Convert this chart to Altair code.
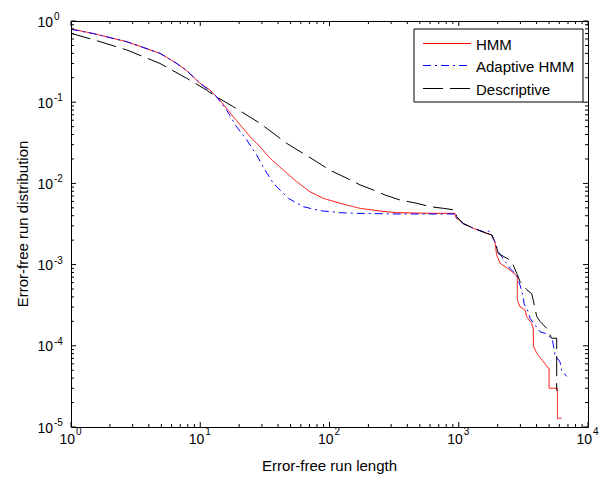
import altair as alt
import pandas as pd

# ---------------- data ----------------
series_names = ["HMM", "Adaptive HMM", "Descriptive"]
series_colors = ["#FF0000", "#0000FF", "#000000"]
series_dashes = [[1, 0], [8, 4, 2, 4], [20, 7]]

hmm_x = [1, 1.49, 2.7, 4.88, 6.58, 7.86, 9.95, 11.9, 14.2, 18,
         24.3, 29, 34.7, 43.9, 55.7, 70.6, 89.5, 121, 172, 246,
         331, 600, 935, 950, 1084, 1297, 1644, 1798, 1905, 1966,
         2085, 2493, 2840, 2840, 2978, 3257, 3356, 3665, 3776, 3776,
         4010, 4508, 4935, 5000, 5000, 5800, 5800, 6250]
hmm_y = [0.80, 0.70, 0.556, 0.40, 0.30, 0.245, 0.171, 0.141, 0.106, 0.0663,
         0.0376, 0.0283, 0.0204, 0.0146, 0.0105, 0.0079, 0.00655, 0.00569, 0.00493, 0.00457,
         0.00436, 0.00428, 0.00428, 0.0038, 0.0032, 0.0028, 0.00243, 0.00232, 0.0019, 0.00131,
         0.00104, 0.00086, 0.00071, 0.000367, 0.000303, 0.000276, 0.000228, 0.000189, 0.00016, 0.0001,
         0.0000807, 0.000064, 0.000053, 0.000053, 0.00003, 0.00003, 0.0000128, 0.0000128]

ahmm_x = [1, 1.49, 2.7, 4.88, 6.58, 7.86, 9.95, 13, 16, 19.1,
          22.9, 27.3, 31.7, 36.8, 48, 62.7, 84.5, 121, 162, 331,
          935, 950, 1084, 1297, 1600, 1700, 1798, 1905, 2023, 2493,
          2805, 2978, 3160, 3200, 3450, 3560, 3900, 4250, 4700, 5300,
          5400, 5560, 6080, 6250, 6840]
ahmm_y = [0.79, 0.70, 0.556, 0.40, 0.30, 0.245, 0.171, 0.123, 0.080, 0.0499,
          0.0342, 0.0224, 0.0146, 0.0100, 0.00655, 0.00517, 0.00461, 0.00436, 0.00428, 0.0042,
          0.0042, 0.0038, 0.0032, 0.0028, 0.0025, 0.0026, 0.00232, 0.0019, 0.00144, 0.0009,
          0.00074, 0.00056, 0.0004, 0.00033, 0.000263, 0.000218, 0.00018, 0.000149, 0.000142, 0.00012,
          0.0001, 0.000077, 0.000063, 0.00005, 0.000042]

desc_x = [1, 1.68, 2.7, 4.88, 7.86, 11.2, 12.6, 18, 29, 46.6,
          79.6, 101, 136, 172, 218, 269, 351, 473, 600, 760,
          935, 964, 1084, 1297, 1644, 1798, 1905, 2023, 2493, 2630,
          2840, 2980, 3160, 3360, 3665, 3776, 4010, 4250, 4790, 5240,
          5726, 5726]
desc_y = [0.705, 0.556, 0.44, 0.30, 0.197, 0.141, 0.123, 0.088, 0.055, 0.0312,
          0.0185, 0.0145, 0.0116, 0.0096, 0.0083, 0.0072, 0.00625, 0.00569, 0.00517, 0.00493,
          0.00471, 0.0039, 0.0032, 0.0028, 0.00243, 0.00232, 0.0019, 0.00137, 0.00114, 0.00100,
          0.00075, 0.00062, 0.00056, 0.00049, 0.00044, 0.00036, 0.00023, 0.0002, 0.000164, 0.000124,
          0.000124, 0.000028]

x_major = [1, 10, 100, 1000, 10000]
x_exp = ["0", "1", "2", "3", "4"]
y_major = [1e-5, 1e-4, 1e-3, 1e-2, 1e-1, 1]
y_exp = ["-5", "-4", "-3", "-2", "-1", "0"]
x_minor = [m * 10 ** d for d in range(0, 4) for m in range(2, 10)]
y_minor = [m * 10.0 ** d for d in range(-5, 0) for m in range(2, 10)]

x_title = "Error-free run length"
y_title = "Error-free run distribution"

# ---------------- layout ----------------
W, H = 517, 406
FONT = "Liberation Sans, Arial, Helvetica, sans-serif"

rows = []
for name, xs_, ys_ in zip(series_names, [hmm_x, ahmm_x, desc_x], [hmm_y, ahmm_y, desc_y]):
    for i, (a, b) in enumerate(zip(xs_, ys_)):
        rows.append({"series": name, "i": i, "x": a, "y": b})
df = pd.DataFrame(rows)

xs = alt.Scale(type="log", domain=[1, 10000])
ys = alt.Scale(type="log", domain=[1e-5, 1])
color_enc = alt.Color("series:N", scale=alt.Scale(domain=series_names, range=series_colors), legend=None)
dash_enc = alt.StrokeDash("series:N", scale=alt.Scale(domain=series_names, range=series_dashes), legend=None)

lines = alt.Chart(df).mark_line(strokeWidth=1, clip=True).encode(
    x=alt.X("x:Q", scale=xs, axis=None),
    y=alt.Y("y:Q", scale=ys, axis=None),
    color=color_enc,
    strokeDash=dash_enc,
    detail="series:N",
    order=alt.Order("i:Q"),
)

layers = [lines]

# inward ticks on all four sides
def xticks(vals, length):
    d = pd.DataFrame({"x": vals})
    base = alt.Chart(d).mark_rule(color="black", strokeWidth=1)
    bottom = base.encode(x=alt.X("x:Q", scale=xs, axis=None), y=alt.value(H), y2=alt.value(H - length))
    top = base.encode(x=alt.X("x:Q", scale=xs, axis=None), y=alt.value(0), y2=alt.value(length))
    return [bottom, top]

def yticks(vals, length):
    d = pd.DataFrame({"y": vals})
    base = alt.Chart(d).mark_rule(color="black", strokeWidth=1)
    left = base.encode(y=alt.Y("y:Q", scale=ys, axis=None), x=alt.value(0), x2=alt.value(length))
    right = base.encode(y=alt.Y("y:Q", scale=ys, axis=None), x=alt.value(W), x2=alt.value(W - length))
    return [left, right]

layers += xticks(x_major, 5) + xticks(x_minor, 3) + yticks(y_major, 5) + yticks(y_minor, 3)

# tick labels: "10" with superscript exponent
xl = pd.DataFrame({"x": x_major, "base": ["10"] * len(x_major), "exp": x_exp})
layers.append(alt.Chart(xl).mark_text(align="right", baseline="alphabetic", fontSize=14, font=FONT,
                                      color="black", dx=4).encode(
    x=alt.X("x:Q", scale=xs, axis=None), y=alt.value(H + 17), text="base:N"))
layers.append(alt.Chart(xl).mark_text(align="left", baseline="alphabetic", fontSize=10, font=FONT,
                                      color="black", dx=5).encode(
    x=alt.X("x:Q", scale=xs, axis=None), y=alt.value(H + 8), text="exp:N"))

yl = pd.DataFrame({"y": y_major, "base": ["10"] * len(y_major), "exp": y_exp})
layers.append(alt.Chart(yl).mark_text(align="right", baseline="middle", fontSize=14, font=FONT,
                                      color="black", dy=1.5).encode(
    y=alt.Y("y:Q", scale=ys, axis=None), x=alt.value(-18), text="base:N"))
layers.append(alt.Chart(yl).mark_text(align="left", baseline="middle", fontSize=10, font=FONT,
                                      color="black", dy=-4).encode(
    y=alt.Y("y:Q", scale=ys, axis=None), x=alt.value(-17), text="exp:N"))

# axis titles
one = pd.DataFrame({"k": [0]})
layers.append(alt.Chart(one).mark_text(align="center", baseline="alphabetic", fontSize=15, font=FONT,
                                       color="black").encode(
    x=alt.value(W / 2), y=alt.value(H + 44), text=alt.value(x_title)))
layers.append(alt.Chart(one).mark_text(align="center", baseline="alphabetic", fontSize=15, font=FONT,
                                       color="black", angle=270).encode(
    x=alt.value(-43), y=alt.value(H / 2), text=alt.value(y_title)))

# legend box and entries (samples use the same colour / dash scales as the lines)
legend_df = pd.DataFrame({"series": series_names})
layers.append(alt.Chart(one).mark_rect(fill="white", stroke="black", strokeWidth=1).encode(
    x=alt.value(343), x2=alt.value(512), y=alt.value(8), y2=alt.value(81)))
legend_rows = [22.5, 44.5, 67.5]
for name, yy in zip(series_names, legend_rows):
    sub = alt.Chart(legend_df).transform_filter(alt.datum.series == name)
    layers.append(sub.mark_rule(strokeWidth=1).encode(
        x=alt.value(352), x2=alt.value(400), y=alt.value(yy),
        color=color_enc, strokeDash=dash_enc))
    layers.append(sub.mark_text(align="left", baseline="middle", fontSize=15, font=FONT,
                                color="black").encode(
        x=alt.value(405), y=alt.value(yy + 1), text="series:N"))

chart = alt.layer(*layers).properties(
    width=W, height=H,
    autosize=alt.AutoSizeParams(type="none"),
    padding={"left": 63, "top": 13, "right": 13, "bottom": 50},
    background="white",
).configure_view(stroke="black", strokeWidth=1)

chart.save("out.html", embed_options={"renderer": "svg", "actions": False})
